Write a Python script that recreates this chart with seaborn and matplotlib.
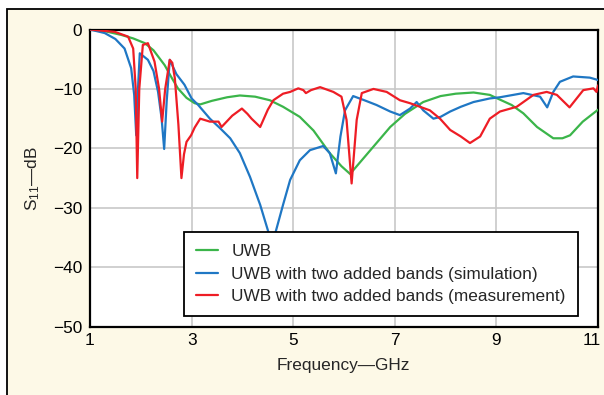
import matplotlib
matplotlib.use("Agg")
import matplotlib.pyplot as plt
from matplotlib.patches import Rectangle
from matplotlib.transforms import ScaledTranslation
import seaborn as sns
import pandas as pd

# ---- data ----
uwb_f = [1.0, 1.3, 1.61, 1.85, 2.08, 2.25, 2.47, 2.6, 2.73, 2.9, 3.06, 3.17, 3.4, 3.7, 3.95,
         4.25, 4.54, 4.8, 5.13, 5.4, 5.72, 5.95, 6.12, 6.4, 6.7, 6.91, 7.2, 7.56, 7.9, 8.2,
         8.55, 8.87, 9.07, 9.3, 9.53, 9.8, 10.12, 10.3, 10.45, 10.7, 11.0]
uwb_db = [0, -0.3, -0.9, -1.5, -2.3, -3.5, -6.0, -8.0, -9.9, -11.5, -12.4, -12.6, -12.0, -11.4, -11.1,
          -11.3, -11.9, -13.0, -14.7, -17.0, -20.8, -23.0, -24.3, -21.5, -18.5, -16.4, -14.2, -12.2, -11.2, -10.8,
          -10.6, -11.0, -11.8, -12.7, -14.1, -16.4, -18.3, -18.3, -17.8, -15.5, -13.5]

sim_f = [1.0, 1.29, 1.5, 1.68, 1.81, 1.87, 1.91, 1.95, 1.98, 2.14, 2.25, 2.34, 2.41, 2.46, 2.51,
         2.57, 2.7, 2.86, 3.0, 3.13, 3.36, 3.56, 3.76, 3.95, 4.15, 4.35, 4.52, 4.6, 4.64, 4.8,
         4.94, 5.13, 5.33, 5.59, 5.72, 5.84, 5.93, 6.02, 6.18, 6.4, 6.64, 6.91, 7.1, 7.3, 7.43,
         7.56, 7.76, 7.9, 8.09, 8.3, 8.55, 8.87, 9.07, 9.53, 9.86, 10.0, 10.12, 10.25, 10.51, 10.84, 11.0]
sim_db = [0, -0.6, -1.6, -3.2, -6.5, -11.0, -17.8, -9.0, -4.0, -5.1, -7.0, -10.5, -15.0, -20.1, -12.0,
          -5.1, -7.5, -9.3, -11.6, -12.7, -15.0, -16.6, -18.3, -20.8, -24.8, -29.5, -34.3, -38.0, -34.5, -29.5,
          -25.3, -22.0, -20.3, -19.6, -20.8, -24.2, -18.0, -13.6, -11.2, -11.9, -12.7, -13.8, -14.4, -13.3, -12.2,
          -13.6, -15.0, -14.7, -13.8, -13.0, -12.2, -11.6, -11.4, -10.7, -11.3, -13.1, -10.5, -8.8, -7.9, -8.1, -8.5]

meas_f = [1.0, 1.49, 1.75, 1.85, 1.9, 1.93, 1.97, 2.04, 2.14, 2.27, 2.36, 2.42, 2.48, 2.57, 2.62,
          2.67, 2.74, 2.80, 2.85, 2.9, 2.99, 3.06, 3.17, 3.36, 3.53, 3.59, 3.8, 3.99, 4.1, 4.18,
          4.35, 4.5, 4.61, 4.8, 4.94, 5.1, 5.2, 5.25, 5.35, 5.53, 5.79, 5.95, 6.05, 6.15, 6.25,
          6.35, 6.58, 6.84, 7.1, 7.3, 7.69, 7.89, 8.09, 8.3, 8.48, 8.68, 8.87, 9.07, 9.4, 9.73,
          9.99, 10.19, 10.44, 10.71, 10.91, 10.97, 11.0]
meas_db = [0, -0.4, -1.2, -3.2, -10.0, -25.0, -10.0, -2.6, -2.3, -5.4, -10.0, -15.5, -10.0, -5.1, -5.6,
           -8.2, -16.0, -25.0, -21.0, -18.9, -17.8, -16.5, -15.0, -15.5, -15.5, -16.4, -14.5, -13.3, -14.2, -15.0,
           -16.4, -13.5, -11.9, -10.8, -10.5, -9.9, -10.2, -10.7, -10.2, -9.7, -10.5, -11.3, -15.2, -25.9, -15.2,
           -10.7, -10.0, -10.5, -11.9, -12.4, -13.6, -15.0, -16.9, -18.0, -19.1, -18.0, -15.0, -13.8, -13.0, -11.0,
           -10.5, -11.0, -13.1, -10.2, -9.9, -10.5, -9.4]

labels = ["UWB", "UWB with two added bands (simulation)", "UWB with two added bands (measurement)"]
colors = ["#3bb54a", "#1f77c4", "#ee1d25"]
x_ticks = [1, 3, 5, 7, 9, 11]
y_ticks = [0, -10, -20, -30, -40, -50]

# ---- style ----
sns.set_style("white")
plt.rcParams["font.family"] = ["Liberation Sans", "DejaVu Sans"]
plt.rcParams["mathtext.fontset"] = "custom"
plt.rcParams["mathtext.rm"] = "Liberation Sans"
plt.rcParams["mathtext.it"] = "Liberation Sans:italic"

FS = 12.4
cream = "#fdf9e7"
fig = plt.figure(figsize=(6.04, 3.95), dpi=100)
fig.patch.set_facecolor("white")
fig.patches.append(Rectangle((7.5 / 604, -0.05), 1.2, 1 - 8.5 / 395 + 0.05,
                             transform=fig.transFigure, facecolor=cream,
                             edgecolor="black", linewidth=1.3, zorder=-5))

ax = fig.add_axes([90 / 604, 1 - 326.7 / 395, 508 / 604, 297.2 / 395])
ax.set_zorder(2)
ax.set_facecolor("white")

series = [(uwb_f, uwb_db), (sim_f, sim_db), (meas_f, meas_db)]
for (f, d), lab, c in zip(series, labels, colors):
    df = pd.DataFrame({"f": f, "d": d})
    sns.lineplot(data=df, x="f", y="d", ax=ax, color=c, linewidth=1.6,
                 label=lab, estimator=None, sort=False, zorder=3)

ax.set_xlim(1, 11)
ax.set_ylim(-50, 0)
ax.set_xticks(x_ticks)
ax.set_yticks(y_ticks)
ax.set_xticklabels([str(v) for v in x_ticks])
ax.set_yticklabels([f"\u2212{abs(v)}" if v < 0 else str(v) for v in y_ticks])
ax.tick_params(axis="both", length=0, labelsize=FS, colors="black")
ax.tick_params(axis="y", pad=5.5)
ax.tick_params(axis="x", pad=4.5)
ax.grid(True, color="#c8c8c8", linewidth=1.2, zorder=0)
ax.set_axisbelow(True)
for s in ax.spines.values():
    s.set_color("black")
    s.set_linewidth(1.6)
    s.set_visible(True)

# keep the last x tick label inside the picture, as in the reference
last = ax.get_xticklabels()[-1]
last.set_transform(last.get_transform() + ScaledTranslation(-0.065, 0, fig.dpi_scale_trans))

ax.set_xlabel("Frequency\u2014GHz", fontsize=FS)
ax.set_ylabel("S$_{\\rm 11}$\u2014dB", fontsize=FS)
ax.xaxis.set_label_coords(0.498, -0.105)
ax.yaxis.set_label_coords(-0.095, 0.5)

leg = ax.legend(loc="upper left", bbox_to_anchor=(0.185, 0.318), fontsize=FS,
                frameon=True, fancybox=False, framealpha=1, edgecolor="black",
                handlelength=1.3, handletextpad=0.75, labelspacing=0.42,
                borderpad=0.7, borderaxespad=0)
leg.get_frame().set_linewidth(1.3)
leg.set_zorder(5)

fig.savefig("out.png", dpi=100, facecolor=fig.get_facecolor())
